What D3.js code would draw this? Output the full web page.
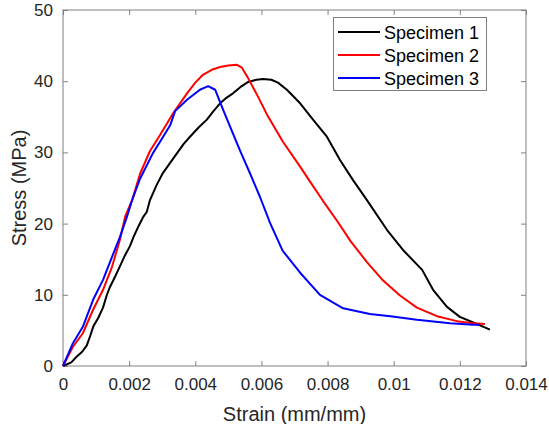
<!DOCTYPE html>
<html><head><meta charset="utf-8">
<script src="https://cdn.jsdelivr.net/npm/d3@7"></script>
<style>body{margin:0;background:#fff}text{font-family:"Liberation Sans",Arial,sans-serif}</style>
</head><body><svg id="c" width="549" height="424"></svg>
<script>
const seriesNames = ["Specimen 1","Specimen 2","Specimen 3"];
const seriesColors = ["#000000","#ff0000","#0000ff"];
const xTicks = [0,0.002,0.004,0.006,0.008,0.01,0.012,0.014];
const xTickLabels = ["0","0.002","0.004","0.006","0.008","0.01","0.012","0.014"];
const yTicks = [0,10,20,30,40,50];
const strain1 = [0,0.00025,0.00041,0.00058,0.00072,0.00082,0.00092,0.00106,0.00121,0.00132,0.00142,0.00157,0.00172,0.00188,0.00202,0.00215,0.00228,0.00242,0.00253,0.00263,0.00283,0.00302,0.00325,0.00345,0.00365,0.00384,0.00410,0.00435,0.00455,0.00475,0.00495,0.00514,0.00537,0.00560,0.00585,0.00605,0.00630,0.00650,0.00677,0.00717,0.00756,0.00798,0.00838,0.00877,0.00919,0.00980,0.01028,0.01086,0.01119,0.01161,0.01200,0.01246,0.01291];
const stress1 = [0,0.5,1.3,2.0,2.9,4.2,5.6,6.7,8.2,9.9,11.1,12.5,14.0,15.6,16.8,18.3,19.6,20.9,21.6,23.3,25.4,27.1,28.6,29.9,31.2,32.2,33.5,34.6,35.8,36.9,37.7,38.3,39.2,39.9,40.2,40.3,40.2,39.8,38.8,36.9,34.6,32.2,28.9,26.1,23.3,19.1,16.3,13.5,10.7,8.3,6.9,6.0,5.1];
const strain2 = [0,0.0003,0.0006,0.00091,0.00121,0.00148,0.00172,0.00188,0.00209,0.00233,0.00263,0.00293,0.00333,0.00375,0.00400,0.00423,0.00450,0.00475,0.00500,0.00526,0.00541,0.00560,0.00590,0.00617,0.00665,0.00717,0.00747,0.00786,0.00830,0.00870,0.00919,0.00968,0.01019,0.01070,0.01131,0.01191,0.0124,0.01276];
const stress2 = [0,2.7,4.6,7.9,10.7,13.9,17.7,21.0,23.3,27.0,30.2,32.4,35.5,38.3,39.8,40.9,41.6,42.0,42.2,42.3,41.9,40.4,37.8,35.3,31.5,28.0,25.9,23.2,20.3,17.5,14.6,12.0,9.9,8.2,7.0,6.3,6.0,5.9];
const strain3 = [0,0.0003,0.0006,0.00091,0.00121,0.00148,0.00172,0.00193,0.00209,0.00233,0.00272,0.00300,0.00324,0.00339,0.00375,0.00414,0.00439,0.00460,0.00484,0.00535,0.00566,0.00596,0.00626,0.00664,0.00717,0.00777,0.00847,0.00928,0.0099,0.0107,0.0117,0.0124,0.0126];
const stress3 = [0,3.2,5.5,9.3,12.1,15.3,18.1,20.9,23.3,26.3,29.9,32.0,33.8,35.8,37.4,38.8,39.3,38.8,36.0,30.3,27.0,23.7,20.1,16.2,13.1,10.0,8.1,7.3,7.0,6.5,6.0,5.8,5.8];
const strains = [strain1,strain2,strain3];
const stresses = [stress1,stress2,stress3];

const svg = d3.select("#c");
const L=63,R=526,T=10,B=366;
const x = d3.scaleLinear().domain([0,0.014]).range([L,R]);
const y = d3.scaleLinear().domain([0,50]).range([B,T]);
const axisColor="#808080", textColor="#262626";

svg.append("rect").attr("x",L).attr("y",T).attr("width",R-L).attr("height",B-T)
  .attr("fill","none").attr("stroke",axisColor).attr("stroke-width",1);

const xa = svg.append("g").attr("transform",`translate(0,${B})`)
  .call(d3.axisBottom(x).tickValues(xTicks).tickFormat((d,i)=>xTickLabels[i]).tickSizeInner(-5).tickSizeOuter(0).tickPadding(12));
const xt = svg.append("g").attr("transform",`translate(0,${T})`)
  .call(d3.axisTop(x).tickValues(xTicks).tickFormat("").tickSizeInner(-5).tickSizeOuter(0));
const ya = svg.append("g").attr("transform",`translate(${L},0)`)
  .call(d3.axisLeft(y).tickValues(yTicks).tickSizeInner(-5).tickSizeOuter(0).tickPadding(10));
const yr = svg.append("g").attr("transform",`translate(${R},0)`)
  .call(d3.axisRight(y).tickValues(yTicks).tickFormat("").tickSizeInner(-5).tickSizeOuter(0));
[xa,xt,ya,yr].forEach(g=>{
  g.select(".domain").remove();
  g.selectAll(".tick line").attr("stroke",axisColor);
  g.selectAll(".tick text").attr("fill",textColor).style("font-size","17px").style("font-family","'Liberation Sans',Arial,sans-serif");
});

const line = d3.line().x(d=>x(d[0])).y(d=>y(d[1]));
strains.forEach((s,i)=>{
  const pts = s.map((v,j)=>[v,stresses[i][j]]);
  svg.append("path").datum(pts).attr("d",line).attr("fill","none")
    .attr("stroke",seriesColors[i]).attr("stroke-width",2).attr("stroke-linejoin","round");
});

svg.append("text").attr("x",(L+R)/2).attr("y",421).attr("text-anchor","middle")
  .attr("fill",textColor).style("font-size","20px").text("Strain (mm/mm)");
svg.append("text").attr("transform",`translate(26,${(T+B)/2}) rotate(-90)`).attr("text-anchor","middle")
  .attr("fill",textColor).style("font-size","20px").text("Stress (MPa)");

const lg = svg.append("g");
lg.append("rect").attr("x",333.5).attr("y",17.5).attr("width",153).attr("height",73)
  .attr("fill","#fff").attr("stroke",axisColor).attr("stroke-width",1);
seriesNames.forEach((n,i)=>{
  const yy = 32 + i*23;
  lg.append("line").attr("x1",338).attr("x2",380).attr("y1",yy).attr("y2",yy)
    .attr("stroke",seriesColors[i]).attr("stroke-width",2);
  lg.append("text").attr("x",384).attr("y",yy+6.5).attr("fill","#000").style("font-size","18px").text(n);
});
</script></body></html>
